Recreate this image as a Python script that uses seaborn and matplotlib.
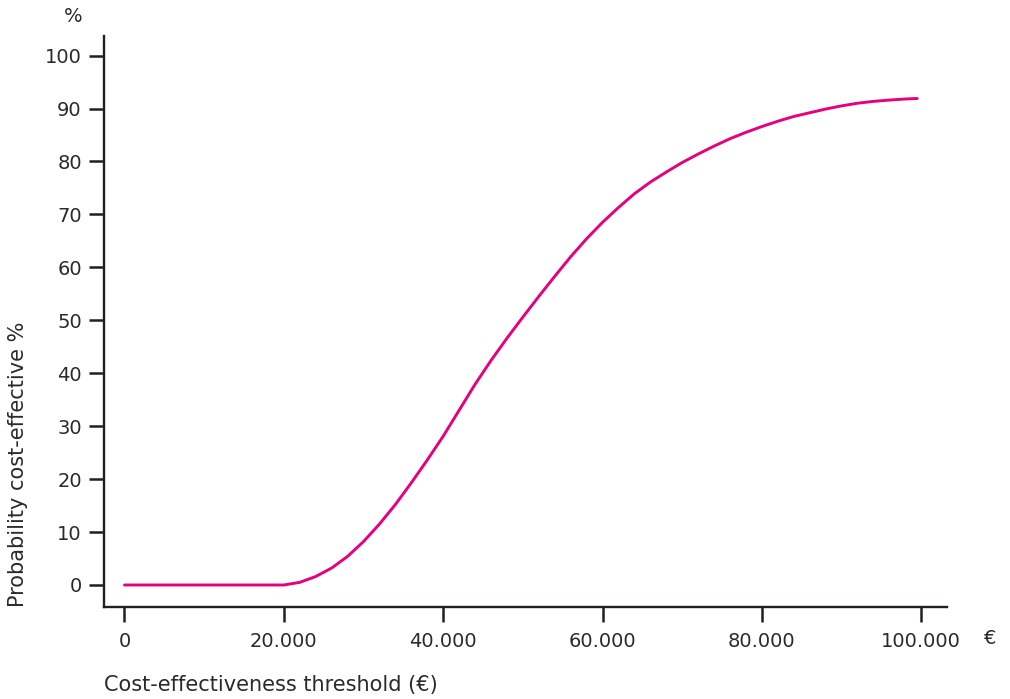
import numpy as np
import pandas as pd
import matplotlib
matplotlib.use("Agg")
import matplotlib.pyplot as plt
import seaborn as sns

# Data
threshold = [0, 5000, 10000, 15000, 20000, 22000, 24000, 26000, 28000, 30000,
             32000, 34000, 36000, 38000, 40000, 42000, 44000, 46000, 48000, 50000,
             52000, 54000, 56000, 58000, 60000, 62000, 64000, 66000, 68000, 70000,
             72000, 74000, 76000, 78000, 80000, 82000, 84000, 86000, 88000, 90000,
             92000, 94000, 96000, 98000, 99500]
probability = [0, 0, 0, 0, 0, 0.5, 1.6, 3.2, 5.4, 8.2,
               11.5, 15.2, 19.3, 23.6, 28.1, 33.0, 37.9, 42.4, 46.6, 50.6,
               54.5, 58.3, 62.0, 65.4, 68.5, 71.3, 73.9, 76.1, 78.0, 79.8,
               81.4, 82.9, 84.3, 85.5, 86.6, 87.6, 88.5, 89.2, 89.9, 90.5,
               91.0, 91.35, 91.6, 91.8, 91.9]
x_ticks = [0, 20000, 40000, 60000, 80000, 100000]
x_tick_labels = ["0", "20.000", "40.000", "60.000", "80.000", "100.000"]
y_ticks = [0, 10, 20, 30, 40, 50, 60, 70, 80, 90, 100]

sns.set_style("ticks")
plt.rcParams["font.family"] = ["DejaVu Sans"]
text_color = "#2b2a29"
spine_color = "#231f20"
fs = 14
fs_label = 15

df = pd.DataFrame({"threshold": threshold, "probability": probability})

fig = plt.figure(figsize=(10.10, 6.99), dpi=100)
ax = fig.add_axes([104 / 1010, 1 - 606.7 / 699, (946.7 - 104) / 1010, (606.7 - 36) / 699])

sns.lineplot(data=df, x="threshold", y="probability", ax=ax,
             color="#e6007e", linewidth=2.1, solid_joinstyle="round")

ax.set_xlim(-2570, 103200)
ax.set_ylim(-4.1, 103.7)
ax.set_xticks(x_ticks)
ax.set_xticklabels(x_tick_labels)
ax.set_yticks(y_ticks)
ax.set_xlabel("")
ax.set_ylabel("")

for side in ["top", "right"]:
    ax.spines[side].set_visible(False)
for side in ["left", "bottom"]:
    ax.spines[side].set_linewidth(1.7)
    ax.spines[side].set_color(spine_color)

ax.tick_params(axis="both", length=11, width=1.8, color=spine_color,
               labelsize=fs, labelcolor=text_color)
ax.tick_params(axis="x", pad=7)
ax.tick_params(axis="y", pad=5)

fig.text(73 / 1010, 1 - 16 / 699, "%", ha="center", va="center",
         fontsize=fs, color=text_color)
fig.text(990 / 1010, 1 - 638 / 699, "€", ha="center", va="center",
         fontsize=fs, color=text_color)
fig.text(104 / 1010, 1 - 685 / 699, "Cost-effectiveness threshold (€)",
         ha="left", va="center", fontsize=fs_label, color=text_color)
fig.text(18 / 1010, 1 - 607 / 699, "Probability cost-effective %",
         rotation=90, ha="center", va="bottom", fontsize=fs_label, color=text_color)

fig.savefig("out.png", dpi=100)
